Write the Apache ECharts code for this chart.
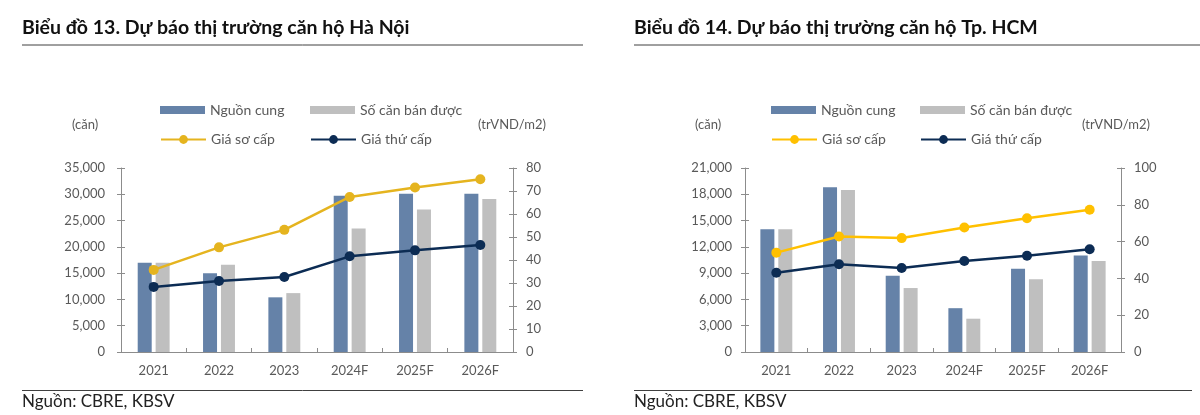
<!DOCTYPE html>
<html><head><meta charset="utf-8">
<script src="https://cdn.jsdelivr.net/npm/echarts@6/dist/echarts.min.js"></script>
<style>html,body{margin:0;padding:0;background:#fff}#c{width:1200px;height:415px}</style>
</head><body><div id="c"></div>
<script>
const categories = ['2021','2022','2023','2024F','2025F','2026F'];
// Hà Nội
const hnSupply = [17000,15000,10400,29700,30100,30100];
const hnSold   = [17000,16600,11200,23500,27100,29100];
const hnPrimary   = [35.7,45.5,53.1,67.4,71.5,75.1];
const hnSecondary = [28.3,30.9,32.6,41.6,44.2,46.5];
// Tp. HCM
const hcmSupply = [14000,18800,8700,5000,9500,11000];
const hcmSold   = [14000,18500,7300,3800,8300,10400];
const hcmPrimary   = [54.0,62.8,61.9,67.7,72.7,77.3];
const hcmSecondary = [43.1,47.7,45.7,49.5,52.3,55.8];

const FONT = 'Lato, "Open Sans", sans-serif';
const C_BLUE = '#6582a8', C_GRAY = '#bfbfbf', C_GOLD_L = '#e5b41f', C_GOLD_R = '#ffc000', C_NAVY = '#0c2c54';
const AX = '#8c8c8c', TXT = '#595959';

function xAxisFor(i){
  return {type:'category', gridIndex:i, data:categories,
    axisLine:{lineStyle:{color:AX}}, axisTick:{show:true, inside:true, length:4, lineStyle:{color:AX}},
    axisLabel:{color:TXT, fontFamily:FONT, fontSize:13, margin:12}};
}
function yAxisDef(i,max,interval,pos,margin,fmt){
  return {type:'value', gridIndex:i, min:0, max:max, interval:interval, position:pos,
    axisLine:{show:true, lineStyle:{color:AX}}, axisTick:{show:true, length:4, lineStyle:{color:AX}},
    splitLine:{show:false},
    axisLabel:{color:TXT, fontFamily:FONT, fontSize:13, margin:margin, formatter:fmt}};
}
// companion axes giving the inner half of the crossing ticks
function yInner(i,max,interval,pos){
  return {type:'value', gridIndex:i, min:0, max:max, interval:interval, position:pos,
    axisLine:{show:false}, axisTick:{show:true, inside:true, length:4, lineStyle:{color:AX}},
    splitLine:{show:false}, axisLabel:{show:false}};
}
const thousands = v=>v.toLocaleString('en-US');
function bars(i,name,data,color){
  return {type:'bar', name:name, xAxisIndex:i, yAxisIndex:i*2, data:data, barWidth:14, barGap:'28%',
    itemStyle:{color:color}, silent:true};
}
function line(i,name,data,color){
  return {type:'line', name:name, xAxisIndex:i, yAxisIndex:i*2+1, data:data, symbol:'circle', symbolSize:10,
    lineStyle:{color:color, width:2.5}, itemStyle:{color:color}, silent:true, z:5};
}
const strip = n=>n.replace(/\u200b+$/,'');
function legendItem(left, top, name, isBar){
  const l = {left:left, top:top, itemWidth:45, itemHeight:isBar?8:11, itemGap:0, padding:0, selectedMode:false,
    textStyle:{color:TXT, fontFamily:FONT, fontSize:14}, data:[name], formatter:strip};
  if (isBar) l.icon = 'rect';
  return l;
}
const Z1 = '\u200b', Z2 = '\u200b\u200b';

const option = {
  animation:false,
  textStyle:{fontFamily:FONT},
  grid:[
    {left:121, right:1200-513, top:168, bottom:415-352},
    {left:745, right:1200-1121, top:168, bottom:415-352}
  ],
  xAxis:[xAxisFor(0), xAxisFor(1)],
  yAxis:[
    yAxisDef(0,35000,5000,'left',16,thousands), yAxisDef(0,80,10,'right',13),
    yAxisDef(1,21000,3000,'left',13,thousands), yAxisDef(1,100,20,'right',13),
    yInner(0,35000,5000,'left'), yInner(0,80,10,'right'),
    yInner(1,21000,3000,'left'), yInner(1,100,20,'right')
  ],
  legend:[
    legendItem(160,103,'Nguồn cung'+Z1,true), legendItem(310,103,'Số căn bán được'+Z1,true),
    legendItem(160,132.5,'Giá sơ cấp'+Z1,false), legendItem(310,132.5,'Giá thứ cấp'+Z1,false),
    legendItem(771,103,'Nguồn cung'+Z2,true), legendItem(920,103,'Số căn bán được'+Z2,true),
    legendItem(771,132.5,'Giá sơ cấp'+Z2,false), legendItem(920,132.5,'Giá thứ cấp'+Z2,false)
  ],
  series:[
    bars(0,'Nguồn cung'+Z1,hnSupply,C_BLUE),
    bars(0,'Số căn bán được'+Z1,hnSold,C_GRAY),
    line(0,'Giá sơ cấp'+Z1,hnPrimary,C_GOLD_L),
    line(0,'Giá thứ cấp'+Z1,hnSecondary,C_NAVY),
    bars(1,'Nguồn cung'+Z2,hcmSupply,C_BLUE),
    bars(1,'Số căn bán được'+Z2,hcmSold,C_GRAY),
    line(1,'Giá sơ cấp'+Z2,hcmPrimary,C_GOLD_R),
    line(1,'Giá thứ cấp'+Z2,hcmSecondary,C_NAVY)
  ],
  graphic:[
    {type:'text', left:22, top:18, style:{text:'Biểu đồ 13. Dự báo thị trường căn hộ Hà Nội', fill:'#111', font:'bold 19.5px '+FONT}},
    {type:'text', left:634, top:18, style:{text:'Biểu đồ 14. Dự báo thị trường căn hộ Tp. HCM', fill:'#111', font:'bold 19.5px '+FONT}},
    {type:'line', shape:{x1:22,y1:45,x2:583,y2:45}, style:{stroke:'#404040', lineWidth:1}},
    {type:'line', shape:{x1:634,y1:45,x2:1200,y2:45}, style:{stroke:'#404040', lineWidth:1}},
    {type:'line', shape:{x1:22,y1:390.5,x2:583,y2:390.5}, style:{stroke:'#404040', lineWidth:1}},
    {type:'line', shape:{x1:634,y1:390.5,x2:1192,y2:390.5}, style:{stroke:'#404040', lineWidth:1}},
    {type:'text', left:22, top:393, style:{text:'Nguồn: CBRE, KBSV', fill:'#222', font:'17px '+FONT}},
    {type:'text', left:634, top:393, style:{text:'Nguồn: CBRE, KBSV', fill:'#222', font:'17px '+FONT}},
    {type:'text', left:72, top:118, style:{text:'(căn)', fill:TXT, font:'13px '+FONT}},
    {type:'text', left:478, top:118, style:{text:'(trVND/m2)', fill:TXT, font:'13px '+FONT}},
    {type:'text', left:695, top:118, style:{text:'(căn)', fill:TXT, font:'13px '+FONT}},
    {type:'text', left:1082, top:118, style:{text:'(trVND/m2)', fill:TXT, font:'13px '+FONT}}
  ]
};
const chart = echarts.init(document.getElementById('c'), null, {renderer:'canvas'});
chart.setOption(option);
</script></body></html>
